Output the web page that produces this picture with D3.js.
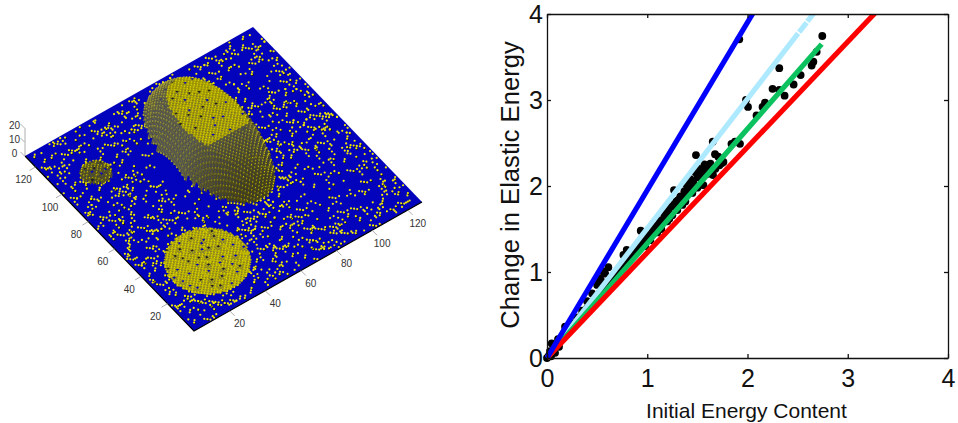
<!DOCTYPE html>
<html><head><meta charset="utf-8">
<script src="https://cdn.jsdelivr.net/npm/d3@7/dist/d3.min.js"></script>
<style>html,body{margin:0;padding:0;background:#fff}svg{display:block}</style></head>
<body><svg id="c" width="958" height="423"></svg>
<script>
// ---------- right panel data ----------
const xTicks=[0,1,2,3,4], yTicks=[0,1,2,3,4];
const blueLine=[[0,0],[2.06,4.02]];
const redLine=[[0,0],[3.28,4.02]];
const greenLine=[[0,0],[2.74,3.65]];
const lightSegments=[[[0,0],[2.505,3.775]],[[2.515,3.79],[2.59,3.9]],[[2.597,3.915],[2.67,4.02]]];
const energyPoints=[[2.746,3.744],[2.69,3.56],[2.657,3.445],[2.64,3.4],[2.53,3.29],[2.46,3.18],[2.317,3.37],[2.25,3.13],[2.37,3.05],[2.317,3.116],[2.175,2.97],[2.15,2.92],[2.005,2.92],[1.985,3.0],[2.09,2.82],[1.918,3.706],[1.925,2.49],[1.84,2.49],[1.875,2.515],[1.653,2.515],[1.486,2.36],[1.676,2.37],[1.742,2.264],[1.709,2.34],[1.61,2.23],[1.56,2.186],[1.526,2.147],[1.656,2.128],[1.46,2.04],[1.393,1.945],[1.56,2.01],[1.76,2.28],[1.59,2.2],[1.68,2.2],[1.63,2.26],[1.5,2.1],[1.54,2.08],[1.31,1.837],[1.227,1.76],[1.267,1.953],[1.42,1.98],[1.36,1.88],[1.27,1.79],[1.18,1.68],[1.12,1.6],[1.06,1.52],[1.0,1.43],[0.94,1.35],[0.88,1.26],[0.82,1.18],[0.76,1.09],[0.7,1.01],[0.64,0.92],[0.58,0.84],[0.52,0.75],[0.46,0.66],[0.4,0.58],[0.34,0.49],[0.28,0.4],[0.22,0.32],[0.16,0.23],[0.1,0.14],[0.05,0.07],[0.02,0.03],[0,0],[0.935,1.48],[0.795,1.256],[0.762,1.198],[0.612,1.055],[0.562,1.004],[0.496,0.887],[0.529,0.927],[0.18,0.364],[0.047,0.17],[0.58,0.98],[0.54,0.9],[1.45,1.92],[1.38,1.82],[1.3,1.72],[1.22,1.62],[1.14,1.5],[1.5,1.98],[0.08,0.06],[0.12,0.13],[0.04,0.02],
[1.41,2.0],[1.37,1.94],[1.33,1.88],[1.29,1.82],[1.25,1.76],[1.21,1.71],[1.17,1.65],[1.13,1.59],[1.09,1.54],[1.05,1.48],[1.01,1.42],[0.97,1.37],[0.93,1.31],[0.89,1.25],[0.85,1.2],[0.81,1.14],[0.77,1.09],[0.73,1.03],[0.69,0.97],[0.65,0.92],[0.61,0.86],[0.57,0.8],[0.53,0.75],[0.49,0.69],[0.45,0.64],[0.41,0.58],[0.37,0.52],[0.33,0.47],[0.29,0.41],[0.25,0.35],[0.21,0.3],[1.55,2.15],[1.48,2.16],[1.52,2.2],[1.6,2.14],[1.64,2.18],[1.72,2.24],[1.43,2.08],[1.39,2.02],[1.57,2.25],[1.46,1.97],[1.4,1.9],[1.35,1.78],[1.25,1.66],[1.2,1.59],[1.1,1.46],[1.03,1.37],[0.98,1.3],
[0.03,0.08],[0.07,0.15],[0.11,0.22],[0.25,0.4],[0.3,0.47],[0.35,0.55],[0.4,0.66],[0.45,0.75],[0.5,0.85]];
const xLabel="Initial Energy Content", yLabel="Change in Elastic Energy";
const colors={blue:"#0000ff",red:"#ff0000",green:"#0cc25f",light:"#aeeaff"};

// ---------- left panel data (grid coordinates, 1..128) ----------
const gridTicks=[20,40,60,80,100,120], zTicks=[0,10,20];
const flatDisc={u:29,v:29,ru:19.5,rv:19.5,h:0};
const smallDome={u:19,v:100,ru:7.5,rv:7.5,h:5};
const bigDome={u:70,v:83,ru:22,rv:40,h:23};
const discHoles=[[20,22],[24,30],[29,18],[33,25],[38,33],[15,33],[27,38],[35,40],[19,40],[41,24],[30,31],[13,26],[25,14],[36,16],[22,34],[44,30],[31,44],[16,19],[40,39],[26,24],[34,35],[11,30],[28,27],[37,21],[23,42],[18,28],[32,21],[42,35],[21,37],[36,27],[27,33],[14,22],[39,18],[30,12],[24,19],[47,26],[12,36],[33,39],[18,45],[25,45],[41,42],[31,36],[22,16]];
const domeHoles=[[60,80],[64,72],[70,88],[74,78],[78,94],[66,96],[58,92],[80,84],[84,90],[72,70],[62,100],[76,104],[68,108],[82,74],[56,86],[88,82],[70,98],[74,90],[66,84],[78,68],[86,98],[60,106],[72,112],[64,90],[80,100],[68,76],[76,86],[82,96],[62,88],[72,104],[66,102],[86,76],[58,100],[78,110],[84,104],[70,80],[74,96],[64,108]];
const smallHoles=[[18,100],[22,97],[15,103],[20,105],[14,96],[19,96],[23,102],[16,99]];
const speckSites=[[3,4],[12,2],[21,5],[34,3],[47,6],[58,2],[66,5],[79,3],[88,7],[97,2],[108,5],[119,3],[125,7],[6,11],[17,9],[28,8],[41,10],[53,12],[62,9],[73,11],[84,10],[93,13],[104,9],[115,12],[122,10],[2,16],[9,19],[48,17],[57,15],[69,18],[77,15],[89,17],[100,16],[110,19],[118,15],[126,18],[4,24],[7,31],[52,22],[60,25],[71,21],[82,24],[91,21],[103,23],[113,26],[121,22],[55,29],[66,31],[75,28],[86,30],[96,27],[107,31],[116,29],[124,32],[3,38],[8,42],[52,36],[61,35],[72,37],[83,34],[94,36],[105,38],[112,35],[120,39],[127,36],[5,46],[14,50],[24,52],[36,49],[47,44],[56,42],[67,43],[78,41],[88,44],[99,42],[109,45],[118,43],[125,47],[2,53],[11,57],[20,59],[31,56],[42,54],[51,50],[62,48],[74,47],[85,49],[96,51],[106,48],[115,52],[123,50],[7,61],[16,64],[26,62],[37,65],[45,60],[90,55],[101,58],[111,56],[120,59],[127,55],[3,68],[12,70],[22,67],[33,71],[41,69],[94,62],[104,66],[114,63],[124,65],[8,75],[18,77],[28,74],[38,78],[98,70],[108,73],[118,71],[126,74],[4,82],[14,84],[24,81],[33,85],[95,79],[102,78],[112,81],[121,79],[9,90],[19,88],[29,91],[36,94],[97,87],[106,89],[116,87],[125,91],[2,96],[31,98],[38,101],[45,104],[99,95],[109,97],[119,95],[127,99],[5,108],[13,112],[26,106],[36,109],[48,112],[57,108],[90,104],[101,103],[111,106],[122,104],[3,117],[10,121],[21,115],[31,118],[41,120],[52,117],[62,121],[72,117],[84,113],[94,112],[104,114],[116,113],[126,112],[7,125],[17,124],[27,126],[37,125],[47,124],[57,126],[68,125],[78,123],[88,120],[98,122],[108,123],[118,120],[124,125],
[15,5],[26,3],[39,7],[51,4],[72,7],[92,4],[112,8],[8,6],[44,13],[66,13],[80,16],[99,11],[120,17],[51,19],[64,20],[74,24],[94,18],[106,25],[123,27],[50,27],[58,32],[69,26],[80,30],[90,26],[101,34],[118,34],[2,34],[56,39],[65,38],[76,36],[91,40],[103,44],[114,40],[123,43],[9,47],[19,53],[30,47],[42,50],[53,46],[70,44],[81,46],[92,47],[113,48],[126,52],[5,56],[24,57],[36,60],[49,55],[87,53],[98,60],[108,54],[117,61],[6,66],[18,72],[30,65],[44,66],[96,66],[110,68],[121,68],[11,79],[23,76],[36,73],[92,76],[103,82],[115,76],[125,83],[7,87],[16,93],[26,86],[40,90],[100,91],[112,92],[122,87],[6,101],[33,103],[42,108],[53,104],[94,99],[105,100],[116,101],[125,106],[8,113],[18,119],[29,112],[39,114],[50,120],[60,114],[70,120],[80,118],[92,117],[103,118],[113,119],[122,116],[13,127],[33,122],[44,117],[65,118],[76,113],[86,109],[98,108],
[11,14],[31,13],[23,12],[38,13],[55,8],[75,5],[86,13],[110,13],[43,2],[103,5],[64,15],[95,23],[109,22],[84,20],[78,33],[99,31],[127,26],[125,13],[54,34],[88,35],[109,41],[68,39],[58,45],[40,44],[17,45],[28,58],[12,63],[47,68],[93,58],[122,55],[35,80],[15,68],[4,74],[109,60],[127,63],[115,70],[92,71],[100,83],[127,85],[20,84],[12,98],[33,90],[43,97],[49,101],[108,85],[118,90],[93,92],[121,98],[18,108],[27,101],[37,116],[54,110],[64,117],[79,110],[89,114],[107,109],[120,110],[24,122],[5,120],[74,126],[93,125],[113,125],[127,118]];
const speckMotifs=[[[0,0],[1,1]],[[0,0],[2,0],[3,-2]],[[0,0],[1,-1],[2,-2],[4,-2]],[[0,0]],[[0,0],[0,2],[2,3]],[[0,0],[3,1]]];

// ---------- scales ----------
const svg=d3.select("#c");
const front=[194,331];
const uX=d3.scaleLinear([0,128],[0,228]), uY=d3.scaleLinear([0,128],[0,-129]);
const vX=d3.scaleLinear([0,128],[0,-169]), vY=d3.scaleLinear([0,128],[0,-175]);
const zY=d3.scaleLinear([0,20],[0,-28]);
const P=(u,v,z=0)=>[front[0]+uX(u)+vX(v),front[1]+uY(u)+vY(v)+zY(z)];
const poly=a=>"M"+a.map(p=>p.join(",")).join("L")+"Z";

// ---------- left panel ----------
const L=svg.append("g");
const baseBlue="#0404c0";
L.append("path").attr("d",poly([P(0,0),P(128,0),P(128,128),P(0,128)])).attr("fill",baseBlue);
const mesh=d3.path();
for(let i=0;i<=128;i+=1){const a=P(i,0),b=P(i,128),c=P(0,i),d=P(128,i);mesh.moveTo(...a);mesh.lineTo(...b);mesh.moveTo(...c);mesh.lineTo(...d);}
L.append("path").attr("d",mesh.toString()).attr("stroke","#000").attr("stroke-opacity",.08).attr("stroke-width",.4).attr("fill","none");
L.append("path").attr("d",poly([P(0,128),P(0,0),P(128,0)]).replace("Z","")).attr("fill","none").attr("stroke","#000").attr("stroke-width",1.2);

const specks=[];
speckSites.forEach((s,i)=>{
  speckMotifs[i%speckMotifs.length].forEach(m=>specks.push([s[0]+m[0],s[1]+m[1]]));
  speckMotifs[(i+3)%speckMotifs.length].forEach(m=>specks.push([127-s[0]+m[0],s[1]+m[1]]));
});
const dot=(g,p,col,r)=>g.append("circle").attr("cx",p[0]).attr("cy",p[1]).attr("r",r).attr("fill",col);
const gs=L.append("g");
specks.filter(s=>s[0]>=1&&s[0]<=127&&s[1]>=1&&s[1]<=127).forEach(s=>{const p=P(s[0],s[1]);
  if(s[0]%3==0)dot(gs,[p[0]+.7,p[1]+.7],"#111",1.1);
  dot(gs,p,"#f2ea00",1.1);});

const holeIndex=(h,u,v)=>h.findIndex(q=>q[0]==u&&q[1]==v);
const nearHole=(h,u,v)=>h.some(q=>(q[0]-u)**2+(q[1]-v)**2<=1);
const holeFill=(h,c,fallback)=>{const i=holeIndex(h,c.u,c.v);return i<0?fallback:(i%2?baseBlue:"#24240c");};
function drawBlob(b,holes,heightF,underF,colF,r,shadow){
  const g=L.append("g"),cells=[];
  for(let u=Math.floor(b.u-b.ru)-1;u<=b.u+b.ru+1;u++)for(let v=Math.floor(b.v-b.rv)-1;v<=b.v+b.rv+1;v++){
    const rr=((u-b.u)/b.ru)**2+((v-b.v)/b.rv)**2;
    if(rr<1)cells.push({u,v,rr});
  }
  const z=(u,v)=>{const rr=((u-b.u)/b.ru)**2+((v-b.v)/b.rv)**2;return rr>=1?0:heightF(rr,u,v)*b.h;};
  cells.sort((a,c)=>(a.u+1.37*a.v>c.u+1.37*c.v?-1:1));
  cells.forEach(c=>{
    c.level=heightF(c.rr,c.u,c.v);
    g.append("path").attr("d",poly([P(c.u,c.v,z(c.u,c.v)),P(c.u+1,c.v,z(c.u+1,c.v)),P(c.u+1,c.v+1,z(c.u+1,c.v+1)),P(c.u,c.v+1,z(c.u,c.v+1))])).attr("fill",underF(c));
    if((c.u+c.v)%2==0&&!nearHole(holes,c.u,c.v)){
      const p=P(c.u,c.v,z(c.u,c.v));
      dot(g,[p[0]+.4,p[1]+.4],"#141408",r*shadow);
      dot(g,p,colF(c),r);
    }
  });
}
drawBlob(flatDisc,discHoles,()=>0,c=>holeFill(discHoles,c,"#b4ac00"),()=>"#ece200",1.05,.8);
drawBlob(smallDome,smallHoles,rr=>Math.sqrt(1-rr),c=>holeFill(smallHoles,c,"#5c5a18"),()=>"#e4da00",1.0,.9);
const domeRise=d3.scaleLinear([44,70],[.35,1]).clamp(true);
const wallUnder=d3.scaleLinear([48,76],["#4a4610","#66663c"]).clamp(true);
const wallDot=d3.scaleLinear([48,76],["#e4da08","#b0a83c"]).clamp(true);
drawBlob(bigDome,domeHoles,(rr,u,v)=>Math.min(1,1.5*Math.pow(1-rr,.8))*domeRise(v),
  c=>c.level>.97?holeFill(domeHoles,c,"#a8a000"):wallUnder(c.v),
  c=>c.level>.97?"#ece200":wallDot(c.v),1.05,.9);

// left axes ticks & labels
const tc="#999", txt="#333";
const lt=(a,b)=>L.append("line").attr("x1",a[0]).attr("y1",a[1]).attr("x2",b[0]).attr("y2",b[1]).attr("stroke",tc).attr("stroke-width",.8);
const lb=(s,x,y)=>L.append("text").attr("x",x).attr("y",y).attr("text-anchor","middle").attr("dominant-baseline","central").attr("font-family","Liberation Sans").attr("font-size",10).attr("fill",txt).text(s);
gridTicks.forEach(t=>{
  const a=P(t,0),b=P(0,t);
  lt(a,[a[0]+5,a[1]+5]);lb(t,a[0]+10,a[1]+13);
  lt(b,[b[0]-6,b[1]+3.5]);lb(t,b[0]-12,b[1]+13);
});
const zb=P(0,128);
lt(zb,[zb[0],zb[1]+zY(20)]);
zTicks.forEach(t=>{const a=[zb[0]-.5,zb[1]+zY(t)];lt(a,[a[0]-4,a[1]-4]);lb(t,a[0]-10,a[1]-3);});

// ---------- right panel ----------
const x=d3.scaleLinear([0,4],[547,948]), y=d3.scaleLinear([0,4],[358,14]);
const R=svg.append("g");
R.append("defs").append("clipPath").attr("id","pc").append("rect").attr("x",530).attr("y",14).attr("width",428).attr("height",360);
R.selectAll("circle.p").data(energyPoints).join("circle").attr("class","p").attr("cx",d=>x(d[0])).attr("cy",d=>y(d[1])).attr("r",3.9).attr("fill","#000");
const line=d3.line().x(d=>x(d[0])).y(d=>y(d[1]));
const lines=R.append("g").attr("clip-path","url(#pc)").attr("fill","none").attr("stroke-width",5.2);
lightSegments.forEach(s=>lines.append("path").attr("d",line(s)).attr("stroke",colors.light));
lines.append("path").attr("d",line(greenLine)).attr("stroke",colors.green);
lines.append("path").attr("d",line(redLine)).attr("stroke",colors.red);
lines.append("path").attr("d",line(blueLine)).attr("stroke",colors.blue);

function styleAxis(g,size){g.selectAll("text").attr("font-family","Liberation Sans").attr("font-size",size).attr("fill","#111");
  g.selectAll("path,line").attr("stroke","#111").attr("stroke-width",1.3);}
const fmt=d3.format("d");
const ax=R.append("g").attr("transform","translate(0,358)").call(d3.axisBottom(x).tickValues(xTicks).tickFormat(fmt).tickSize(-4).tickSizeOuter(0).tickPadding(11));
styleAxis(ax,25);
const ay=R.append("g").attr("transform","translate(547,0)").call(d3.axisLeft(y).tickValues(yTicks).tickFormat(fmt).tickSize(-4).tickSizeOuter(0).tickPadding(4));
styleAxis(ay,25);
const at=R.append("g").attr("transform","translate(0,14)").call(d3.axisTop(x).tickValues(xTicks).tickFormat("").tickSize(-4).tickSizeOuter(0));
styleAxis(at,25);
const ar=R.append("g").attr("transform","translate(948,0)").call(d3.axisRight(y).tickValues(yTicks).tickFormat("").tickSize(-4).tickSizeOuter(0));
styleAxis(ar,25);
R.append("text").attr("x",746.5).attr("y",418).attr("text-anchor","middle").attr("font-family","Liberation Sans").attr("font-size",21).attr("fill","#111").text(xLabel);
R.append("text").attr("transform","translate(519,185) rotate(-90)").attr("text-anchor","middle").attr("font-family","Liberation Sans").attr("font-size",25.6).attr("fill","#111").text(yLabel);
</script></body></html>
